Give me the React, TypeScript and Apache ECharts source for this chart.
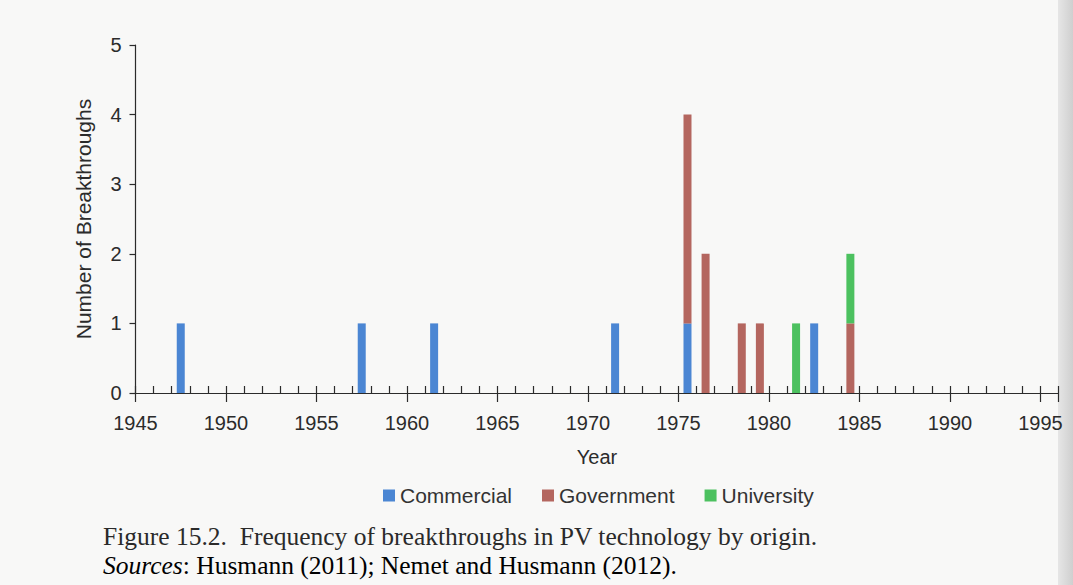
import React, { useEffect, useRef } from "react";
import * as echarts from "echarts";

// Axis range (years)
const axisStartYear = 1945;
const axisEndYear = 1996;
const xTickLabels = ["1945", "1950", "1955", "1960", "1965", "1970", "1975", "1980", "1985", "1990", "1995"];
const yTickLabels = ["0", "1", "2", "3", "4", "5"];

// Breakthrough data by year and origin
const breakthroughYears = ["1947", "1957", "1961", "1971", "1975", "1976", "1978", "1979", "1981", "1982", "1984"];
const commercial = [1, 1, 1, 1, 1, 0, 0, 0, 0, 1, 0];
const government = [0, 0, 0, 0, 3, 2, 1, 1, 0, 0, 1];
const university = [0, 0, 0, 0, 0, 0, 0, 0, 1, 0, 1];

const seriesNames = ["Commercial", "Government", "University"];
const seriesColors = ["#4b86d3", "#b4665f", "#4cc15f"];

const captionLine1 = "Figure 15.2.  Frequency of breakthroughs in PV technology by origin.";
const captionSourcesLabel = "Sources";
const captionSourcesText = ": Husmann (2011); Nemet and Husmann (2012).";

export default function App() {
  const ref = useRef<HTMLDivElement>(null);
  useEffect(() => {
    document.body.style.margin = "0";
    const chart = echarts.init(ref.current!, null, { renderer: "svg" });
    const yearCats: string[] = [];
    for (let y = axisStartYear; y < axisEndYear; y++) yearCats.push(String(y));
    const toPairs = (vals: number[]) =>
      breakthroughYears.map((y, i) => [y, vals[i] === 0 ? null : vals[i]]);
    const sans = "'Liberation Sans', Arial, sans-serif";
    const serif = "'Liberation Serif', 'DejaVu Serif', serif";
    const axisColor = "#2b2b2b";
    const option: any = {
      animation: false,
      backgroundColor: "#f8f8f7",
      textStyle: { fontFamily: sans },
      grid: { left: 135.5, top: 45, width: 923, height: 348 },
      legend: {
        data: seriesNames,
        icon: "rect",
        itemWidth: 12,
        itemHeight: 12,
        itemGap: 30,
        left: 378,
        top: 480,
        textStyle: { fontSize: 21, color: "#333", fontFamily: sans },
      },
      xAxis: [
        {
          type: "value",
          position: "bottom",
          min: axisStartYear,
          max: axisEndYear,
          interval: 5,
          axisLine: { show: true, lineStyle: { color: axisColor, width: 1.2 } },
          axisTick: { show: true, length: 9, lineStyle: { color: axisColor, width: 1.2 } },
          axisLabel: {
            fontSize: 20,
            color: "#2b2b2b",
            margin: 20,
            formatter: (v: number) => (xTickLabels.includes(String(v)) ? String(v) : ""),
          },
          splitLine: { show: false },
          name: "Year",
          nameLocation: "middle",
          nameGap: 54,
          nameTextStyle: { fontSize: 20, color: "#2b2b2b" },
        },
        {
          type: "value",
          position: "bottom",
          min: axisStartYear,
          max: axisEndYear,
          interval: 1,
          axisLine: { show: false },
          axisTick: { show: true, inside: true, length: 7, lineStyle: { color: axisColor, width: 1.2 } },
          axisLabel: { show: false },
          splitLine: { show: false },
        },
        {
          type: "category",
          position: "bottom",
          data: yearCats,
          boundaryGap: true,
          show: false,
        },
      ],
      yAxis: {
        type: "value",
        min: 0,
        max: 5,
        interval: 1,
        axisLine: { show: true, lineStyle: { color: axisColor, width: 1.2 } },
        axisTick: { show: true, length: 6, lineStyle: { color: axisColor, width: 1.2 } },
        axisLabel: {
          fontSize: 20,
          color: "#2b2b2b",
          margin: 14,
          formatter: (v: number) => (yTickLabels.includes(String(v)) ? String(v) : ""),
        },
        splitLine: { show: false },
        name: "Number of Breakthroughs",
        nameLocation: "middle",
        nameGap: 42,
        nameTextStyle: { fontSize: 21, color: "#2b2b2b" },
      },
      series: [
        { name: seriesNames[0], data: toPairs(commercial) },
        { name: seriesNames[1], data: toPairs(government) },
        { name: seriesNames[2], data: toPairs(university) },
      ].map((s, i) => ({
        ...s,
        type: "bar",
        stack: "total",
        xAxisIndex: 2,
        barWidth: 8,
        itemStyle: { color: seriesColors[i] },
      })),
      graphic: [
        {
          type: "rect",
          shape: { x: 1058, y: 0, width: 15, height: 585 },
          style: {
            fill: new echarts.graphic.LinearGradient(0, 0, 1, 0, [
              { offset: 0, color: "#e6e6e6" },
              { offset: 1, color: "#cfcfcf" },
            ]),
          },
          silent: true,
        },
        {
          type: "text",
          left: 103,
          top: 523,
          style: {
            text: captionLine1,
            font: "25.5px " + serif,
            fill: "#2a2a2a",
          },
        },
        {
          type: "text",
          left: 103,
          top: 552,
          style: {
            text: "{i|" + captionSourcesLabel + "}{n|" + captionSourcesText + "}",
            rich: {
              i: { fontSize: 25.5, fontStyle: "italic", fontFamily: serif, color: "#2a2a2a" },
              n: { fontSize: 25.5, fontFamily: serif, color: "#2a2a2a" },
            },
          },
        },
      ],
    };
    chart.setOption(option);
    return () => chart.dispose();
  }, []);
  return <div ref={ref} style={{ width: 1073, height: 585 }} />;
}
